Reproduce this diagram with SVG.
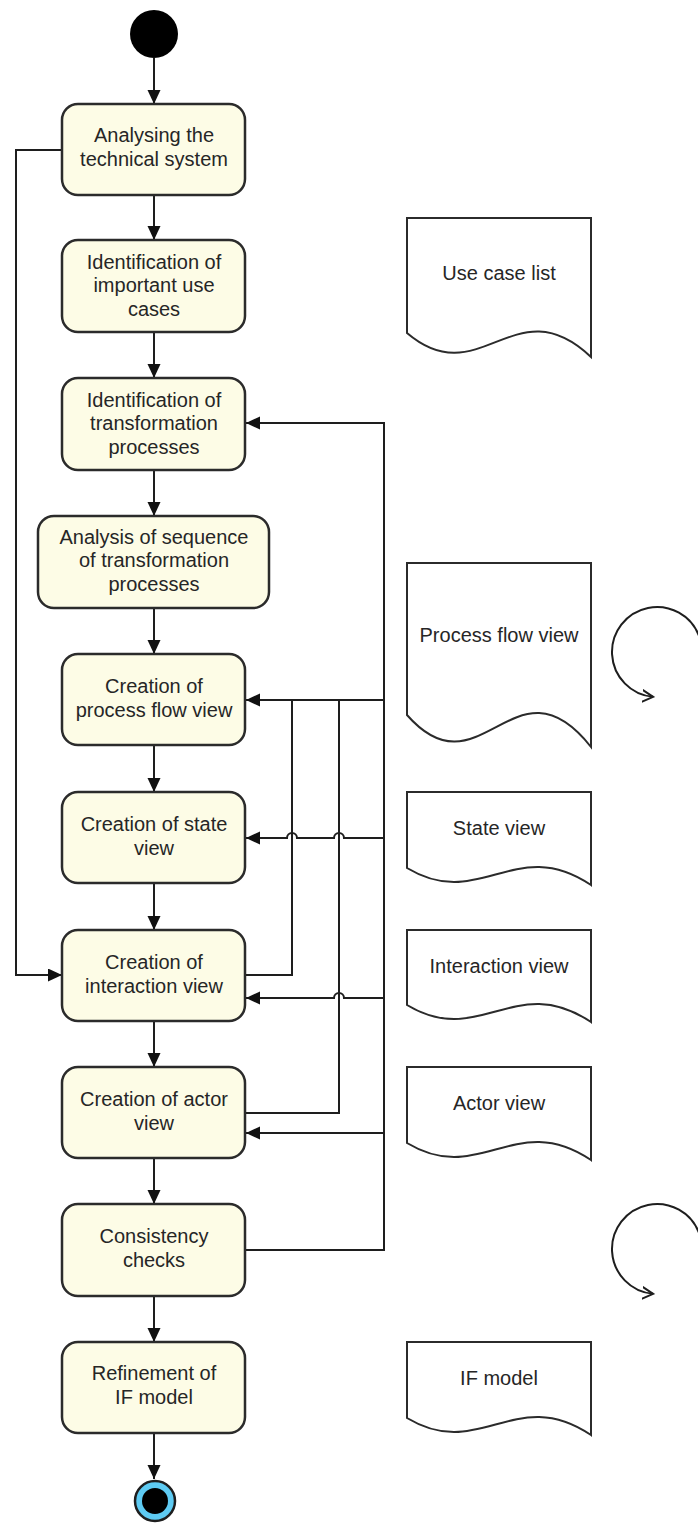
<svg xmlns="http://www.w3.org/2000/svg" width="698" height="1524" viewBox="0 0 698 1524">
<style>
.box{fill:#fdfce6;stroke:#2b2b2b;stroke-width:2.5}
.doc{fill:#ffffff;stroke:#2b2b2b;stroke-width:2}
.t{font-family:"Liberation Sans",Arial,sans-serif;font-size:20px;fill:#262626;text-anchor:middle}
.c{fill:none;stroke:#1e1e1e;stroke-width:2}
.a{marker-end:url(#ah)}
.loop{fill:none;stroke:#1e1e1e;stroke-width:2;marker-end:url(#oa)}
</style>
<defs>
<marker id="ah" markerUnits="userSpaceOnUse" markerWidth="15" markerHeight="14" refX="14" refY="6.5" orient="auto">
<path d="M0,0 L14,6.5 L0,13 z" fill="#111111"/>
</marker>
<marker id="oa" markerUnits="userSpaceOnUse" markerWidth="14" markerHeight="16" refX="11" refY="8" orient="auto">
<path d="M0,2 L11,8 L0,14" fill="none" stroke="#1e1e1e" stroke-width="2"/>
</marker>
</defs>
<rect width="698" height="1524" fill="#ffffff"/>

<g id="connectors">
<line class="c a" x1="154" y1="58" x2="154" y2="104"/>
<line class="c a" x1="154" y1="195" x2="154" y2="240"/>
<line class="c a" x1="154" y1="332" x2="154" y2="378"/>
<line class="c a" x1="154" y1="470" x2="154" y2="516"/>
<line class="c a" x1="154" y1="608" x2="154" y2="654"/>
<line class="c a" x1="154" y1="745" x2="154" y2="792"/>
<line class="c a" x1="154" y1="883" x2="154" y2="930"/>
<line class="c a" x1="154" y1="1021" x2="154" y2="1067"/>
<line class="c a" x1="154" y1="1158" x2="154" y2="1204"/>
<line class="c a" x1="154" y1="1296" x2="154" y2="1342"/>
<line class="c a" x1="154" y1="1433" x2="154" y2="1479"/>
<path class="c a" d="M62,150 H16 V975 H62"/>
<path class="c" d="M245,975 H292 V700"/>
<path class="c" d="M245,1113 H339 V700"/>
<path class="c a" d="M245,1250 H384 V423 H246"/>
<path class="c a" d="M384,700 H246"/>
<path class="c a" d="M384,838 H344 A5,5 0 0 0 334,838 H297 A5,5 0 0 0 287,838 H246"/>
<path class="c a" d="M384,998 H344 A5,5 0 0 0 334,998 H246"/>
<path class="c a" d="M384,1133 H246"/>
<path class="loop" d="M699.3,636.6 A45,45 0 1 0 653.1,696.8"/>
<path class="loop" d="M699.3,1233.6 A45,45 0 1 0 653.1,1293.8"/>
</g>

<g id="start"><circle cx="154" cy="34" r="24" fill="#000000"/></g>

<g id="n1"><rect class="box" x="62" y="104" width="183" height="91" rx="16"/>
<text class="t" x="154" y="142">Analysing the</text><text class="t" x="154" y="166">technical system</text></g>
<g id="n2"><rect class="box" x="62" y="240" width="183" height="92" rx="16"/>
<text class="t" x="154" y="269">Identification of</text><text class="t" x="154" y="292">important use</text><text class="t" x="154" y="316">cases</text></g>
<g id="n3"><rect class="box" x="62" y="378" width="183" height="92" rx="16"/>
<text class="t" x="154" y="407">Identification of</text><text class="t" x="154" y="430">transformation</text><text class="t" x="154" y="454">processes</text></g>
<g id="n4"><rect class="box" x="38" y="516" width="231" height="92" rx="16"/>
<text class="t" x="154" y="544">Analysis of sequence</text><text class="t" x="154" y="567">of transformation</text><text class="t" x="154" y="591">processes</text></g>
<g id="n5"><rect class="box" x="62" y="654" width="183" height="91" rx="16"/>
<text class="t" x="154" y="693">Creation of</text><text class="t" x="154" y="717">process flow view</text></g>
<g id="n6"><rect class="box" x="62" y="792" width="183" height="91" rx="16"/>
<text class="t" x="154" y="831">Creation of state</text><text class="t" x="154" y="855">view</text></g>
<g id="n7"><rect class="box" x="62" y="930" width="183" height="91" rx="16"/>
<text class="t" x="154" y="969">Creation of</text><text class="t" x="154" y="993">interaction view</text></g>
<g id="n8"><rect class="box" x="62" y="1067" width="183" height="91" rx="16"/>
<text class="t" x="154" y="1106">Creation of actor</text><text class="t" x="154" y="1130">view</text></g>
<g id="n9"><rect class="box" x="62" y="1204" width="183" height="92" rx="16"/>
<text class="t" x="154" y="1243">Consistency</text><text class="t" x="154" y="1267">checks</text></g>
<g id="n10"><rect class="box" x="62" y="1342" width="183" height="91" rx="16"/>
<text class="t" x="154" y="1380">Refinement of</text><text class="t" x="154" y="1404">IF model</text></g>

<g id="end"><circle cx="155" cy="1501" r="20" fill="#5ecbf3" stroke="#1e1e1e" stroke-width="2.5"/><circle cx="155" cy="1501" r="13" fill="#000000"/></g>

<g id="d1"><path class="doc" d="M407,218 H591 V357 C515,285 480,395 407,333 Z"/>
<text class="t" x="499" y="280">Use case list</text></g>
<g id="d2"><path class="doc" d="M407,563 H591 V747 C515,651 480,798 407,715 Z"/>
<text class="t" x="499" y="642">Process flow view</text></g>
<g id="d3"><path class="doc" d="M407,792 H591 V885 C515,834 480,912 407,868 Z"/>
<text class="t" x="499" y="835">State view</text></g>
<g id="d4"><path class="doc" d="M407,930 H591 V1022 C515,971 480,1049 407,1005 Z"/>
<text class="t" x="499" y="973">Interaction view</text></g>
<g id="d5"><path class="doc" d="M407,1067 H591 V1160 C515,1109 480,1187 407,1143 Z"/>
<text class="t" x="499" y="1110">Actor view</text></g>
<g id="d6"><path class="doc" d="M407,1342 H591 V1435 C515,1384 480,1462 407,1418 Z"/>
<text class="t" x="499" y="1385">IF model</text></g>
</svg>
